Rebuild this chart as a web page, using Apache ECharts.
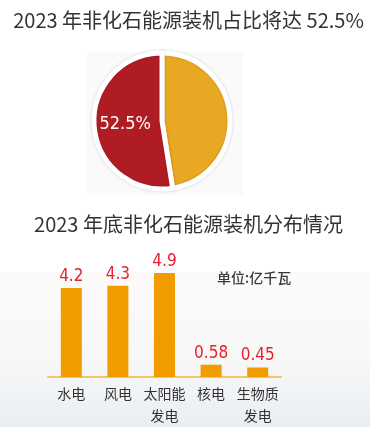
<!DOCTYPE html>
<html>
<head>
<meta charset="utf-8">
<script src="https://cdn.jsdelivr.net/npm/echarts@6/dist/echarts.min.js"></script>
<style>
  html, body { margin: 0; padding: 0; background: #fff; }
  #main { width: 377px; height: 427px; }
</style>
</head>
<body>
<div id="main"></div>
<script>
// 非化石能源装机占比
const shareNames = ['化石能源', '非化石能源'];
const shareValues = [47.5, 52.5];

// 2023 年底非化石能源装机分布（亿千瓦）
const categories = ['水电', '风电', '太阳能\n发电', '核电', '生物质\n发电'];
const capacity = [4.2, 4.3, 4.9, 0.58, 0.45];

const chart = echarts.init(document.getElementById('main'));

const font = '"Noto Sans CJK SC", "Noto Sans", sans-serif';
const numFont = '"DejaVu Sans Condensed", "DejaVu Sans", sans-serif';

const option = {
  backgroundColor: '#fff',
  animation: false,
  graphic: [
    {
      type: 'rect',
      z: -10,
      shape: { x: 0, y: 272, width: 370, height: 155 },
      style: {
        fill: {
          type: 'linear', x: 0, y: 0, x2: 0, y2: 1,
          colorStops: [
            { offset: 0, color: '#fdfafb' },
            { offset: 0.6, color: '#f7f7f8' },
            { offset: 1, color: '#e9eef2' }
          ]
        }
      }
    },
    {
      type: 'rect',
      z: -10,
      shape: { x: 87, y: 52, width: 156, height: 143 },
      style: { fill: '#fafafa' }
    },
    {
      type: 'text',
      left: 'center',
      top: 10,
      style: { text: '2023 年非化石能源装机占比将达 52.5%', font: '20px ' + font, fill: '#333' }
    },
    {
      type: 'text',
      left: 'center',
      top: 214,
      style: { text: '2023 年底非化石能源装机分布情况', font: '20px ' + font, fill: '#333' }
    },
    {
      type: 'text',
      left: 217,
      top: 271,
      style: { text: '单位:亿千瓦', font: '500 14px ' + font, fill: '#3a3a3a' }
    }
  ],
  series: [
    {
      type: 'pie',
      center: [162, 121],
      radius: [0, 68],
      startAngle: 90,
      clockwise: true,
      silent: true,
      itemStyle: {
        borderColor: '#fff',
        borderWidth: 5,
        shadowColor: 'rgba(0,0,0,0.15)',
        shadowBlur: 3
      },
      label: { show: false },
      labelLine: { show: false },
      data: shareNames.map((n, i) => ({
        name: n,
        value: shareValues[i],
        itemStyle: { color: i === 0 ? '#e9a823' : '#b01c24' },
        label: i === 1 ? {
          show: true,
          position: 'inside',
          formatter: shareValues[i] + '%',
          color: '#fff',
          fontSize: 18,
          fontFamily: numFont
        } : { show: false }
      }))
    },
    {
      type: 'bar',
      xAxisIndex: 0,
      yAxisIndex: 0,
      barWidth: 21,
      data: capacity,
      itemStyle: { color: '#f29c00' },
      label: {
        show: true,
        position: 'top',
        distance: 3,
        color: '#e8202e',
        fontSize: 17,
        fontFamily: numFont
      }
    }
  ],
  grid: { left: 48, right: 96, top: 271, bottom: 49 },
  xAxis: {
    type: 'category',
    data: categories,
    axisLine: { lineStyle: { color: '#f6c36a', width: 2 } },
    axisTick: { show: false },
    axisLabel: {
      color: '#333',
      fontSize: 14,
      fontFamily: font,
      lineHeight: 22,
      margin: 6,
      interval: 0
    }
  },
  yAxis: {
    type: 'value',
    min: 0,
    max: 5,
    show: false,
    splitLine: { show: false }
  }
};

chart.setOption(option);
</script>
</body>
</html>
